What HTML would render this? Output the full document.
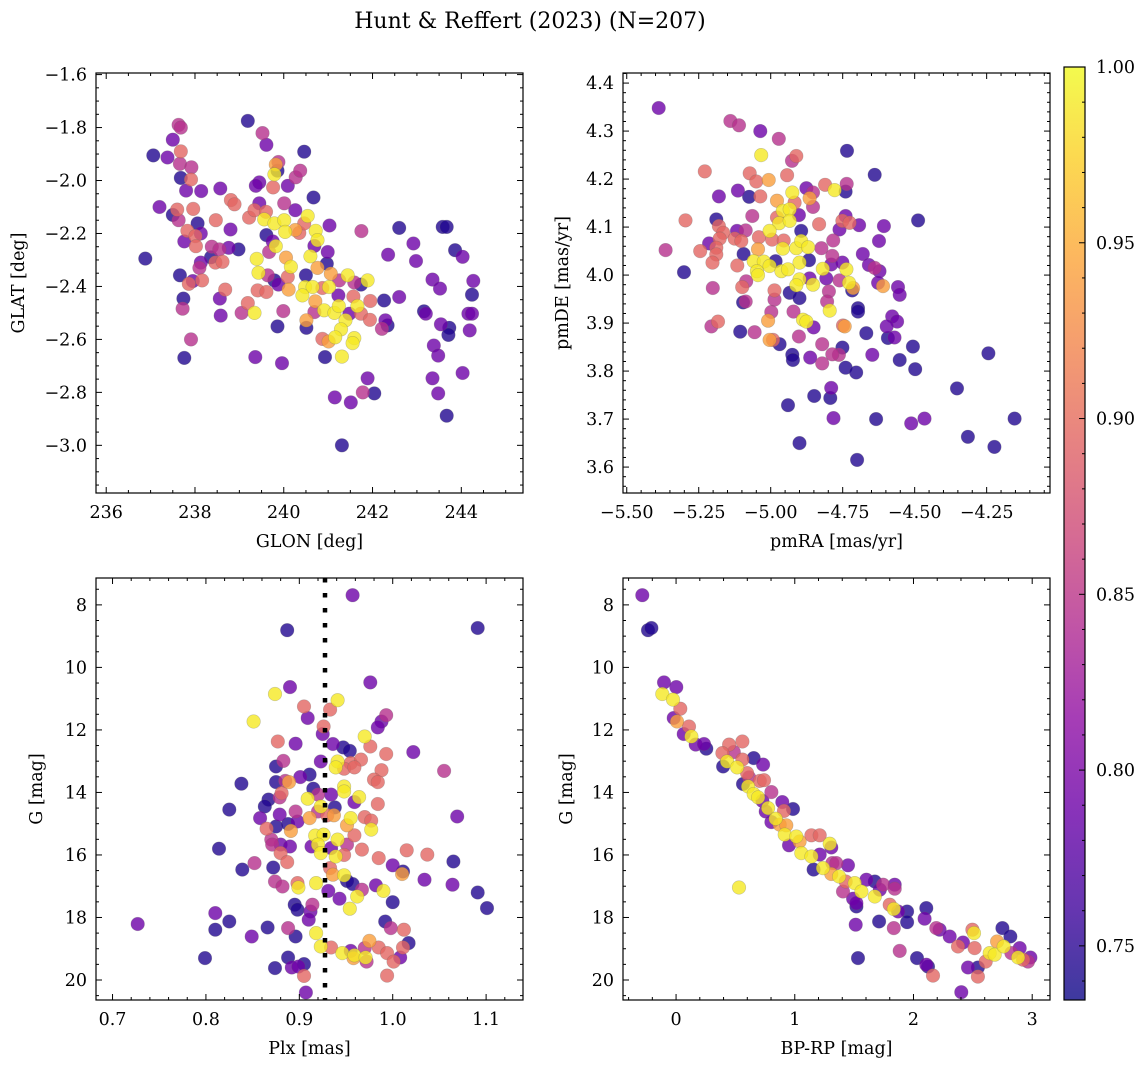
<!DOCTYPE html>
<html><head><meta charset="utf-8">
<style>
html,body{margin:0;padding:0;background:#fff;}
svg{display:block;font-family:"DejaVu Serif","Liberation Serif",serif;}
</style></head>
<body>
<svg id="fig" width="1148" height="1067" viewBox="0 0 1148 1067" xmlns="http://www.w3.org/2000/svg">
<defs>
<linearGradient id="plasma" x1="0" y1="1" x2="0" y2="0">
<stop offset="0" stop-color="#0d0887"/><stop offset="0.1" stop-color="#41049d"/><stop offset="0.2" stop-color="#6a00a8"/><stop offset="0.3" stop-color="#8f0da4"/><stop offset="0.4" stop-color="#b12a90"/><stop offset="0.5" stop-color="#cc4778"/><stop offset="0.6" stop-color="#e16462"/><stop offset="0.7" stop-color="#f2844b"/><stop offset="0.8" stop-color="#fca636"/><stop offset="0.9" stop-color="#fcce25"/><stop offset="1" stop-color="#f0f921"/>
</linearGradient>
</defs>
<text x="530" y="28" font-size="22" text-anchor="middle">Hunt &amp; Reffert (2023) (N=207)</text>
</svg>
<script>
// Panel 1: GLON vs GLAT
const p1x=[239.19,239.52,239.61,240.46,237.63,237.68,237.50,237.06,237.38,237.68,237.66,237.92,237.68,237.91,237.80,238.14,238.57,237.2,237.5,237.6,237.63,237.96,238.06,237.83,238.13,238.01,237.76,238.02,238.47,238.81,238.89,238.8,236.88,238.38,238.55,238.76,238.98,238.36,238.13,238.46,238.62,238.10,237.66,237.95,237.86,238.16,238.68,237.74,237.72,238.56,238.58,237.91,237.76,239.19,239.34,239.05,239.41,239.61,239.43,239.39,239.67,239.82,239.61,239.75,239.22,239.34,239.45,239.56,239.6,239.79,240.01,240.03,240.01,240.26,240.26,240.35,240.46,240.54,240.72,240.76,240.69,241.03,240.67,240.09,239.76,239.45,239.37,239.86,239.79,239.82,239.88,240.27,240.37,240.6,240.05,240.16,240.09,240.11,239.88,239.79,239.64,240.5,240.76,240.99,240.97,241.06,241.44,241.89,241.74,241.59,240.48,240.65,240.42,240.87,241.02,241.25,241.23,240.71,240.91,241.14,241.24,241.57,241.66,241.48,241.74,241.95,241.94,241.39,241.29,241.16,241.01,240.87,241.59,241.55,241.31,240.93,240.51,240.51,240.69,239.99,239.86,239.36,239.96,242.26,242.35,242.29,242.34,242.21,242.6,241.75,242.6,242.92,242.98,243.35,243.52,243.16,243.2,243.54,243.73,243.71,243.38,243.48,243.35,243.48,243.67,243.58,243.67,243.86,244.03,244.27,244.24,244.16,244.24,244.19,244.03,241.89,241.78,242.04,241.15,241.51,241.31];
const p1y=[-1.775,-1.821,-1.865,-1.891,-1.79,-1.80,-1.846,-1.905,-1.913,-1.89,-1.937,-1.95,-1.99,-1.996,-2.038,-2.04,-2.03,-2.10,-2.13,-2.11,-2.15,-2.107,-2.162,-2.19,-2.20,-2.21,-2.23,-2.248,-2.15,-2.074,-2.09,-2.185,-2.295,-2.25,-2.26,-2.254,-2.26,-2.29,-2.31,-2.31,-2.307,-2.33,-2.358,-2.38,-2.39,-2.377,-2.412,-2.446,-2.484,-2.446,-2.51,-2.60,-2.67,-2.463,-2.50,-2.50,-2.415,-2.421,-2.348,-2.296,-2.27,-2.248,-2.206,-2.23,-2.14,-2.112,-2.086,-2.147,-2.118,-2.162,-2.15,-2.194,-2.086,-2.112,-2.187,-2.198,-2.162,-2.134,-2.19,-2.225,-2.247,-2.17,-2.064,-2.02,-2.026,-2.007,-2.02,-1.963,-1.977,-1.94,-1.93,-1.988,-1.963,-2.286,-2.291,-2.326,-2.364,-2.412,-2.393,-2.377,-2.358,-2.358,-2.33,-2.27,-2.314,-2.352,-2.358,-2.377,-2.393,-2.385,-2.402,-2.402,-2.434,-2.406,-2.402,-2.377,-2.434,-2.456,-2.49,-2.5,-2.474,-2.438,-2.474,-2.503,-2.503,-2.455,-2.526,-2.528,-2.562,-2.592,-2.608,-2.598,-2.595,-2.614,-2.665,-2.667,-2.528,-2.556,-2.497,-2.493,-2.551,-2.667,-2.69,-2.453,-2.28,-2.528,-2.547,-2.56,-2.44,-2.191,-2.179,-2.238,-2.304,-2.374,-2.408,-2.494,-2.503,-2.543,-2.556,-2.583,-2.623,-2.661,-2.747,-2.804,-2.888,-2.175,-2.175,-2.263,-2.288,-2.379,-2.431,-2.503,-2.503,-2.566,-2.727,-2.747,-2.8,-2.804,-2.819,-2.838,-3.0];
const p1c=[.745,.845,.79,.745,.845,.845,.79,.745,.79,.895,.845,.845,.745,.895,.79,.79,.79,.79,.745,.895,.845,.895,.745,.895,.79,.895,.79,.895,.895,.895,.895,.79,.745,.845,.845,.79,.745,.745,.79,.895,.895,.845,.745,.79,.895,.895,.895,.745,.845,.79,.79,.845,.745,.895,.99,.845,.895,.895,.99,.99,.845,.99,.745,.79,.895,.895,.79,.99,.895,.99,.99,.99,.845,.79,.94,.895,.895,.99,.99,.99,.79,.79,.745,.79,.895,.79,.79,.745,.99,.94,.845,.845,.845,.99,.94,.99,.895,.94,.79,.745,.845,.745,.94,.79,.745,.94,.99,.99,.745,.845,.99,.99,.99,.895,.99,.845,.79,.94,.99,.99,.99,.895,.99,.79,.895,.895,.895,.99,.99,.99,.94,.895,.99,.99,.99,.745,.94,.745,.845,.845,.745,.79,.79,.745,.79,.79,.745,.845,.79,.845,.745,.79,.79,.79,.79,.745,.79,.79,.745,.745,.79,.79,.79,.79,.745,.745,.745,.745,.79,.79,.745,.79,.79,.79,.79,.79,.845,.745,.79,.79,.745];
// Panel 2: pmRA vs pmDE
const p2x=[-5.389,-5.140,-5.110,-5.036,-4.972,-5.033,-4.911,-4.926,-4.735,-4.639,-5.229,-5.073,-5.050,-5.007,-4.943,-5.180,-5.114,-5.075,-5.036,-4.978,-4.925,-4.876,-4.853,-4.865,-4.811,-4.778,-4.740,-4.736,-4.917,-4.853,-4.958,-4.934,-4.902,-4.978,-4.971,-4.934,-5.064,-5.189,-5.180,-5.165,-5.296,-4.832,-4.740,-4.751,-4.726,-4.693,-4.488,-4.607,-4.624,-4.761,-5.004,-4.894,-5.117,-5.087,-5.041,-4.995,-4.955,-5.214,-5.177,-5.189,-5.125,-5.102,-5.365,-5.245,-5.189,-5.202,-5.044,-4.958,-4.911,-4.894,-4.870,-4.824,-4.783,-4.680,-5.094,-5.059,-5.024,-5.004,-4.983,-4.900,-4.867,-4.786,-4.790,-4.751,-5.116,-5.048,-5.044,-4.963,-4.940,-4.819,-4.737,-4.659,-4.639,-4.622,-5.301,-4.900,-4.911,-4.853,-4.865,-4.807,-4.761,-4.728,-4.717,-4.714,-4.627,-4.610,-4.558,-4.552,-5.085,-5.099,-5.201,-4.987,-4.934,-4.900,-4.798,-5.096,-5.087,-4.987,-4.804,-4.795,-4.697,-4.697,-4.998,-5.009,-4.921,-4.888,-4.876,-4.851,-4.749,-4.743,-4.668,-4.578,-4.561,-4.597,-5.183,-5.206,-5.106,-5.056,-5.004,-4.992,-4.969,-4.902,-4.821,-4.751,-4.763,-4.786,-4.821,-4.925,-4.923,-4.863,-4.740,-4.703,-4.647,-4.593,-4.570,-4.506,-4.552,-4.498,-4.244,-4.353,-4.790,-4.793,-4.849,-4.940,-4.782,-4.634,-4.512,-4.466,-4.153,-4.315,-4.223,-4.900,-4.700];
const p2y=[4.348,4.321,4.312,4.30,4.284,4.250,4.248,4.238,4.259,4.209,4.216,4.212,4.195,4.198,4.208,4.164,4.176,4.163,4.164,4.155,4.172,4.181,4.172,4.16,4.188,4.177,4.174,4.19,4.151,4.142,4.134,4.137,4.125,4.12,4.108,4.113,4.123,4.116,4.102,4.088,4.114,4.106,4.123,4.113,4.109,4.104,4.114,4.102,4.071,4.095,4.092,4.092,4.092,4.093,4.079,4.074,4.072,4.066,4.076,4.057,4.076,4.071,4.052,4.05,4.043,4.026,4.054,4.055,4.056,4.071,4.058,4.056,4.072,4.044,4.044,4.029,4.028,4.019,4.029,4.026,4.031,4.040,4.022,4.026,4.02,4.008,4.0,4.008,4.012,4.013,4.012,4.021,4.015,4.008,4.006,3.991,3.979,3.98,3.993,3.993,3.989,3.984,3.968,3.973,3.984,3.977,3.975,3.959,3.987,3.975,3.973,3.968,3.963,3.952,3.966,3.943,3.945,3.949,3.945,3.926,3.931,3.924,3.923,3.905,3.924,3.907,3.903,3.891,3.895,3.893,3.879,3.914,3.903,3.893,3.903,3.893,3.882,3.881,3.865,3.865,3.856,3.872,3.856,3.849,3.834,3.835,3.816,3.834,3.823,3.828,3.807,3.797,3.834,3.869,3.87,3.851,3.823,3.804,3.837,3.764,3.765,3.744,3.748,3.729,3.702,3.7,3.691,3.701,3.701,3.663,3.642,3.65,3.615];
const p2c=[.79,.845,.845,.79,.845,.99,.895,.845,.745,.745,.895,.895,.895,.94,.895,.79,.79,.745,.895,.94,.99,.79,.845,.94,.895,.99,.745,.845,.895,.845,.99,.99,.79,.895,.99,.99,.845,.745,.895,.895,.895,.895,.79,.895,.895,.79,.745,.79,.79,.79,.99,.745,.79,.845,.895,.895,.895,.79,.895,.895,.895,.895,.845,.895,.895,.895,.94,.99,.99,.99,.99,.845,.845,.79,.745,.99,.99,.99,.745,.99,.745,.845,.79,.79,.895,.99,.99,.99,.99,.99,.99,.79,.845,.79,.745,.99,.99,.99,.79,.79,.845,.99,.745,.94,.79,.94,.79,.79,.845,.895,.845,.895,.745,.745,.845,.745,.845,.845,.845,.99,.745,.745,.845,.94,.845,.99,.99,.79,.895,.94,.745,.79,.79,.79,.895,.845,.745,.845,.94,.895,.745,.845,.845,.745,.845,.845,.845,.745,.745,.79,.745,.745,.79,.745,.79,.745,.745,.745,.745,.745,.79,.745,.745,.745,.79,.745,.79,.79,.745,.745,.745,.745,.745];
// Panel 3: Plx vs G
const p3x=[0.957,0.887,1.091,0.976,0.890,0.874,0.941,0.851,0.905,0.909,0.933,0.926,0.925,0.993,0.988,0.984,1.022,1.055,1.069,0.970,0.976,0.993,0.877,0.896,0.936,0.947,0.954,0.883,0.875,0.923,0.941,0.939,0.955,0.966,0.948,0.959,0.988,0.980,0.984,0.838,0.875,0.885,0.889,0.901,0.911,0.948,0.948,0.964,0.959,0.915,0.934,0.920,0.909,0.984,0.881,0.879,0.867,0.863,0.858,0.879,0.896,0.898,0.923,0.938,0.825,0.911,0.920,0.930,0.937,0.955,0.970,0.977,0.951,0.977,0.865,0.875,0.891,0.888,0.917,0.926,0.941,0.959,0.913,0.920,0.923,0.934,0.939,0.948,0.951,0.967,0.870,0.880,0.871,0.880,0.890,0.887,0.985,1.015,1.037,1.065,0.814,0.839,0.852,0.872,0.933,0.936,0.948,0.951,0.957,1.000,1.011,1.010,1.034,1.064,0.874,0.882,0.898,0.899,0.918,0.931,0.943,0.962,0.967,0.982,0.990,0.954,1.000,1.091,1.101,0.727,0.810,0.810,0.825,0.849,0.866,0.895,0.898,0.914,0.912,0.910,0.888,0.896,0.918,0.923,0.934,0.992,0.998,1.012,1.017,1.011,0.975,0.970,0.985,0.994,1.001,1.008,0.946,0.959,0.955,0.971,0.972,0.958,0.799,0.888,0.874,0.892,0.899,0.905,0.905,0.994,0.907];
const p3y=[7.69,8.81,8.74,10.48,10.63,10.85,11.05,11.73,11.25,11.62,11.35,11.89,12.13,11.53,11.73,11.92,12.71,13.31,14.77,12.21,12.53,12.77,12.37,12.44,12.45,12.56,12.67,12.99,13.17,13.01,13.01,13.2,13.06,12.95,13.24,13.2,13.29,13.59,13.67,13.72,13.67,13.63,13.67,13.51,13.43,13.81,13.97,14.15,14.31,13.88,14.07,14.07,14.2,14.37,14.02,14.16,14.23,14.45,14.82,14.71,14.61,14.93,14.45,14.48,14.55,14.82,14.61,14.73,14.73,14.82,14.79,14.9,15.05,15.19,15.16,15.09,15.23,15.01,15.38,15.35,15.51,15.37,15.73,15.67,15.94,15.78,16.05,16.0,15.67,15.83,15.51,15.67,15.67,15.94,15.73,16.23,16.1,15.85,15.99,16.21,15.8,16.47,16.26,16.4,16.42,16.63,16.65,16.83,16.93,16.33,16.53,16.61,16.79,16.95,16.85,17.01,16.9,17.04,16.9,17.15,17.4,17.33,17.11,16.97,17.15,17.72,17.51,17.2,17.7,18.21,17.86,18.39,18.13,18.61,18.32,17.59,17.75,17.59,17.81,18.07,18.34,18.61,18.5,18.93,18.96,18.13,18.34,18.39,18.82,18.96,18.75,18.98,18.96,19.14,19.41,19.28,19.14,19.21,19.07,19.28,19.41,19.3,19.3,19.28,19.62,19.6,19.57,19.49,19.87,19.86,20.4];
const p3c=[.79,.745,.745,.79,.79,.99,.99,.99,.895,.79,.895,.895,.79,.845,.79,.79,.79,.845,.79,.99,.895,.895,.895,.79,.79,.745,.745,.845,.745,.79,.99,.99,.895,.895,.895,.895,.895,.895,.895,.745,.745,.845,.94,.79,.745,.99,.99,.99,.79,.745,.79,.845,.99,.895,.895,.845,.745,.745,.79,.79,.845,.79,.99,.745,.745,.94,.845,.895,.94,.99,.895,.895,.94,.99,.895,.745,.94,.745,.99,.99,.99,.895,.79,.99,.99,.79,.99,.895,.845,.895,.845,.79,.845,.895,.79,.895,.895,.895,.895,.745,.745,.745,.845,.745,.895,.94,.99,.745,.745,.79,.745,.94,.79,.79,.845,.845,.895,.99,.99,.79,.79,.99,.845,.79,.99,.99,.745,.745,.745,.79,.79,.745,.745,.79,.745,.745,.745,.845,.79,.79,.845,.745,.99,.99,.895,.745,.845,.895,.745,.895,.94,.845,.895,.895,.895,.79,.99,.99,.79,.99,.845,.94,.745,.745,.745,.79,.79,.745,.895,.895,.79];
const plxMean=[0.9275];
// Panel 4: BP-RP vs G
const p4x=[-0.284,-0.236,-0.208,-0.102,0.002,-0.116,-0.026,0.036,-0.02,0.008,0.109,0.064,0.129,0.165,0.235,0.255,0.447,0.559,0.390,0.486,0.396,0.430,0.514,0.559,0.654,0.733,0.598,0.615,0.564,0.607,0.705,0.741,0.654,0.691,0.803,0.727,0.775,0.895,0.985,0.909,0.755,0.803,0.839,0.873,0.929,0.915,1.013,1.041,0.951,1.14,1.21,1.055,1.14,1.294,1.308,1.21,1.159,1.238,1.317,1.35,1.448,1.308,1.373,1.406,1.429,1.505,1.561,1.603,1.674,1.674,1.716,1.744,1.842,1.842,1.491,1.519,1.519,1.8,1.834,1.87,1.946,1.946,1.513,1.71,1.834,1.884,1.533,2.108,2.094,2.03,2.108,2.122,2.164,2.192,2.22,2.305,2.417,2.375,2.403,2.496,2.51,2.515,2.459,2.543,2.543,2.608,2.642,2.684,2.704,2.76,2.749,2.816,2.825,2.895,2.881,2.923,2.965,2.985,0.53];
const p4y=[7.69,8.81,8.74,10.48,10.63,10.85,11.03,11.32,11.62,11.73,11.89,12.13,12.21,12.47,12.45,12.6,12.47,12.37,12.74,12.71,13.17,13.01,13.2,12.95,12.9,13.11,13.38,13.52,13.73,13.81,13.63,13.61,14.05,14.16,13.99,14.27,14.5,14.31,14.53,14.59,14.61,14.95,14.84,15.03,15.05,15.35,15.41,15.57,15.69,15.37,15.37,15.94,16.05,15.64,15.76,15.99,16.47,16.42,16.26,16.26,16.33,16.61,16.69,17.17,16.85,16.9,17.17,16.79,16.85,17.33,17.11,16.95,16.95,17.08,17.4,17.54,17.65,17.59,17.73,17.81,17.81,18.15,18.23,18.13,18.34,19.07,19.3,17.7,18.04,19.3,19.51,19.57,19.86,18.34,18.39,18.61,18.8,18.93,20.39,18.39,18.5,18.98,19.6,19.6,19.89,19.41,19.14,19.19,18.77,18.93,18.34,18.61,19.14,18.98,19.28,19.35,19.41,19.28,17.04];
const p4c=[.79,.745,.745,.79,.79,.99,.99,.895,.79,.94,.895,.79,.99,.79,.79,.745,.895,.895,.895,.845,.745,.99,.99,.895,.745,.79,.895,.845,.745,.99,.895,.895,.99,.99,.845,.79,.99,.79,.745,.895,.79,.79,.99,.94,.94,.99,.99,.94,.79,.895,.895,.99,.99,.99,.79,.79,.745,.99,.845,.845,.79,.94,.99,.845,.895,.99,.99,.79,.745,.99,.79,.845,.79,.845,.79,.79,.745,.895,.99,.79,.745,.745,.79,.745,.845,.845,.745,.745,.79,.745,.79,.745,.895,.845,.79,.79,.79,.895,.79,.895,.99,.895,.79,.745,.895,.895,.99,.99,.94,.99,.745,.745,.845,.79,.99,.895,.845,.79,.99];
// Colorbar range and ticks
const cbRange=[0.7346,1.0];
const cbTicks=[0.75,0.80,0.85,0.90,0.95,1.00];

const NS="http://www.w3.org/2000/svg";
const svg=document.getElementById('fig');
function mk(tag,attrs,parent){const e=document.createElementNS(NS,tag);for(const k in attrs)e.setAttribute(k,attrs[k]);(parent||svg).appendChild(e);return e;}
const stops=[[0,[13,8,135]],[.1,[65,4,157]],[.2,[106,0,168]],[.3,[143,13,164]],[.4,[177,42,144]],[.5,[204,71,120]],[.6,[225,100,98]],[.7,[242,132,75]],[.8,[252,166,54]],[.9,[252,206,37]],[1,[240,249,33]]];
function plasma(v){let t=(v-cbRange[0])/(cbRange[1]-cbRange[0]);t=Math.max(0,Math.min(1,t));for(let i=1;i<stops.length;i++){if(t<=stops[i][0]){const a=stops[i-1],b=stops[i];const f=(t-a[0])/(b[0]-a[0]);const c=a[1].map((x,j)=>Math.round(x+(b[1][j]-x)*f));return `rgb(${c[0]},${c[1]},${c[2]})`;}}return 'rgb(240,249,33)';}

const FS=17.5;
const panels=[
 {name:'glon-glat',L:96,T:73,R:523,B:493,xmin:235.77,xmax:245.39,ymin:-3.18,ymax:-1.594,xs:p1x,ys:p1y,cs:p1c,xmaj:2,xmin_:0.5,ymaj:0.2,ymin_:0.05,xdec:0,ydec:1,xlabel:'GLON [deg]',ylabel:'GLAT [deg]',inv:false,ylx:18},
 {name:'pm',L:623,T:73,R:1050,B:493,xmin:-5.513,xmax:-4.03,ymin:3.546,ymax:4.421,xs:p2x,ys:p2y,cs:p2c,xmaj:0.25,xmin_:0.05,ymaj:0.1,ymin_:0.02,xdec:2,ydec:1,xlabel:'pmRA [mas/yr]',ylabel:'pmDE [mas/yr]',inv:false,ylx:562},
 {name:'plx-g',L:96,T:578,R:523,B:1000,xmin:0.6823,xmax:1.1395,ymin:7.14,ymax:20.64,xs:p3x,ys:p3y,cs:p3c,xmaj:0.1,xmin_:0.02,ymaj:2,ymin_:0.5,xdec:1,ydec:0,xlabel:'Plx [mas]',ylabel:'G [mag]',inv:true,ylx:36},
 {name:'cmd',L:623,T:578,R:1050,B:1000,xmin:-0.447,xmax:3.15,ymin:7.14,ymax:20.64,xs:p4x,ys:p4y,cs:p4c,xmaj:1,xmin_:0.2,ymaj:2,ymin_:0.5,xdec:0,ydec:0,xlabel:'BP-RP [mag]',ylabel:'G [mag]',inv:true,ylx:566}
];
function fmt(v,d){let s=v.toFixed(d);if(Math.abs(v)<1e-9)s=(0).toFixed(d);return s.replace('-','\u2212');}
panels.forEach(p=>{
 const g=mk('g',{});
 
 
 const sx=v=>p.L+(v-p.xmin)/(p.xmax-p.xmin)*(p.R-p.L);
 const sy=v=>p.inv? p.T+(v-p.ymin)/(p.ymax-p.ymin)*(p.B-p.T) : p.B-(v-p.ymin)/(p.ymax-p.ymin)*(p.B-p.T);
 const clip=mk('clipPath',{id:'clip-'+p.name},g);mk('rect',{x:p.L,y:p.T,width:p.R-p.L,height:p.B-p.T},clip);
 const pg=mk('g',{'clip-path':'url(#clip-'+p.name+')'},g);
 const idx=p.xs.map((_,i)=>i).sort((a,b)=>p.cs[a]-p.cs[b]);
 idx.forEach(i=>{
  const c=mk('circle',{cx:sx(p.xs[i]).toFixed(1),cy:sy(p.ys[i]).toFixed(1),r:6.8,fill:plasma(p.cs[i]),'fill-opacity':0.8,stroke:'#666','stroke-opacity':0.35,'stroke-width':0.6},pg);
  
  
 });
 if(p.name==='plx-g'){
  const ln=mk('line',{x1:sx(plxMean[0]),x2:sx(plxMean[0]),y1:p.T,y2:p.B,stroke:'#000','stroke-width':4.5,'stroke-dasharray':'4.5,10.5'},pg);
  
  
 }
 const tk=mk('g',{stroke:'#000','stroke-width':1},g);
 const eps=1e-9;
 for(let v=Math.ceil(p.xmin/p.xmin_-eps)*p.xmin_;v<=p.xmax+eps;v+=p.xmin_){
  const x=sx(v);const maj=Math.abs(v/p.xmaj-Math.round(v/p.xmaj))<1e-6;const l=maj?6:3;
  mk('line',{x1:x,x2:x,y1:p.B,y2:p.B-l},tk);mk('line',{x1:x,x2:x,y1:p.T,y2:p.T+l},tk);
  if(maj){const t=mk('text',{x:x,y:p.B+25,'font-size':FS,'text-anchor':'middle'},g);t.textContent=fmt(Math.round(v/p.xmaj)*p.xmaj,p.xdec);
   
   }
 }
 for(let v=Math.ceil(p.ymin/p.ymin_-eps)*p.ymin_;v<=p.ymax+eps;v+=p.ymin_){
  const y=sy(v);const maj=Math.abs(v/p.ymaj-Math.round(v/p.ymaj))<1e-6;const l=maj?6:3;
  mk('line',{x1:p.L,x2:p.L+l,y1:y,y2:y},tk);mk('line',{x1:p.R,x2:p.R-l,y1:y,y2:y},tk);
  if(maj){const t=mk('text',{x:p.L-9,y:y+6,'font-size':FS,'text-anchor':'end'},g);t.textContent=fmt(Math.round(v/p.ymaj)*p.ymaj,p.ydec);
   
   }
 }
 const fr=mk('rect',{x:p.L,y:p.T,width:p.R-p.L,height:p.B-p.T,fill:'none',stroke:'#000','stroke-width':1.2},g);
 
 
 const xl=mk('text',{x:(p.L+p.R)/2,y:p.B+54,'font-size':FS,'text-anchor':'middle'},g);xl.textContent=p.xlabel;
 
 
 const yx=p.ylx+6;const ym=(p.T+p.B)/2;
 const yl=mk('text',{x:yx,y:ym,'font-size':FS,'text-anchor':'middle',transform:`rotate(-90 ${yx} ${ym})`},g);yl.textContent=p.ylabel;
 
 
});
const cb={L:1064,R:1085,T:67,B:1000};
const cg=mk('g',{});


mk('rect',{x:cb.L,y:cb.T,width:cb.R-cb.L,height:cb.B-cb.T,fill:'url(#plasma)','fill-opacity':0.8},cg);
mk('rect',{x:cb.L,y:cb.T,width:cb.R-cb.L,height:cb.B-cb.T,fill:'none',stroke:'#000','stroke-width':1.2},cg);
const cy=v=>cb.B-(v-cbRange[0])/(cbRange[1]-cbRange[0])*(cb.B-cb.T);
for(let k=Math.ceil(cbRange[0]*100);k<=100;k++){const y=cy(k/100);const maj=k%5===0;mk('line',{x1:cb.R,x2:cb.R-(maj?6:3),y1:y,y2:y,stroke:'#000','stroke-width':1},cg);}
cbTicks.forEach(v=>{const t=mk('text',{x:cb.R+11,y:cy(v)+6,'font-size':FS},cg);t.textContent=v.toFixed(2);
 
 });
</script>
</body></html>
